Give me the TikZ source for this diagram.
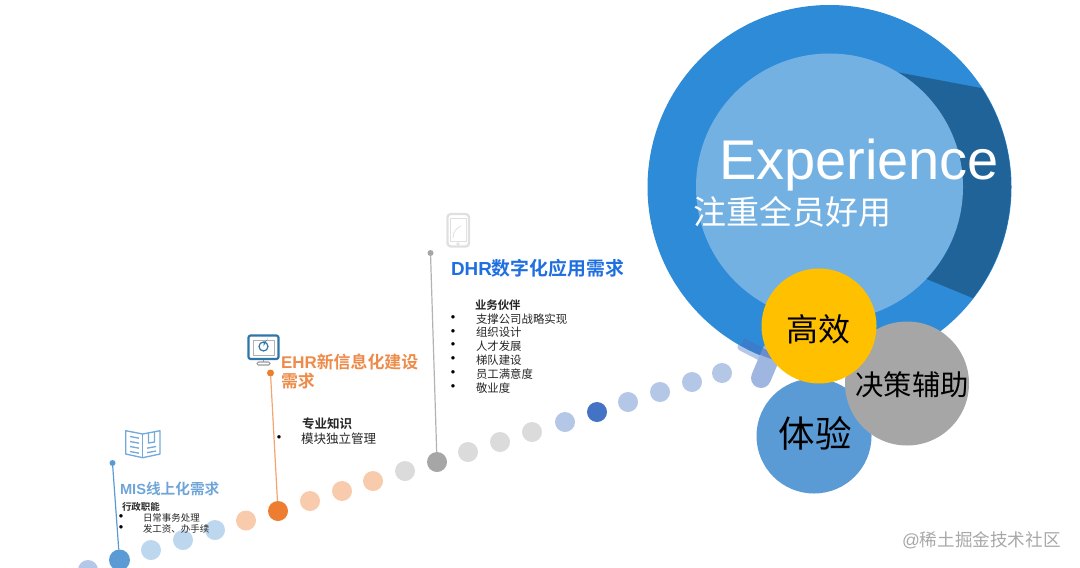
\documentclass[tikz,border=0pt]{standalone}
\usepackage{fontspec}
\setmainfont{Liberation Sans}
\newfontfamily\cjk{Noto Sans CJK SC}[BoldFont={* Bold}]
\newcommand{\fsz}[1]{\fontsize{#1}{#1}\selectfont}
\definecolor{outerblue}{HTML}{2E8BD7}
\definecolor{innerblue}{HTML}{74B1E3}
\definecolor{wedgeblue}{HTML}{1F6398}
\definecolor{goldc}{HTML}{FFC000}
\definecolor{greyc}{HTML}{A6A6A6}
\definecolor{midblue}{HTML}{5B9BD5}
\definecolor{paleblue}{HTML}{BDD7EE}
\definecolor{paleorange}{HTML}{F8CBAD}
\definecolor{strongorange}{HTML}{ED7D31}
\definecolor{palegrey}{HTML}{DBDBDB}
\definecolor{peri}{HTML}{B4C7E7}
\definecolor{royal}{HTML}{4472C4}
\definecolor{titleblue}{HTML}{1F6FE0}
\definecolor{titleorange}{HTML}{ED8B4A}
\definecolor{titlesky}{HTML}{6FA5D8}
\definecolor{wm}{HTML}{A8A8A8}
\definecolor{iconblue}{HTML}{2E75A8}
\tikzset{
  blob/.style={circle,inner sep=0pt,outer sep=0pt,minimum size=#1*0.75pt},
  dotp/.style={blob=20,fill=#1},
  lbl/.style={inner sep=0pt,outer sep=0pt,anchor=west},
  say/.style={lbl,font=\cjk\fsz{8.55},text=black!85},
  bul/.style={inner sep=0pt,font=\fsz{9.5},text=black},
}
\begin{document}
\begin{tikzpicture}[x=0.75pt,y=-0.75pt]
\clip (0,0) rectangle (1080,567);
% soft band under the big circle
\draw[line width=5.5pt,line cap=round,color=peri] (741,347) -- (768,361);
% big circles
\node[blob=364,fill=outerblue] (big) at (829.5,187) {};
\begin{scope}
  \clip (829.5,187) circle (181.5);
  \fill[wedgeblue] (880,69) -- (1050,101) -- (1050,330) -- (900,268) -- cycle;
\end{scope}
\node[blob=267,fill=innerblue] (inner) at (829.5,187) {};
% tail
\draw[line width=15pt,line cap=round,color=royal!52!white] (761,378) -- (772,352);
\begin{scope}
  \clip (829.5,187) circle (181.5);
  \draw[line width=8pt,color=royal,opacity=.6] (742,343) -- (780,363);
\end{scope}
% small circles
\node[blob=115,fill=midblue] (ty) at (814,436) {};
\node[blob=124,fill=greyc] (jc) at (907,383.5) {};
\node[blob=115,fill=goldc] (gx) at (819,326) {};
\node[inner sep=0pt,font=\cjk\fsz{24}] at (818,329) {高效};
\node[inner sep=0pt,font=\cjk\fsz{21.2}] at (912,385) {决策辅助};
\node[inner sep=0pt,font=\cjk\fsz{27.4}] at (815,433) {体验};
% heading
\node[lbl,font=\fsz{42},text=white] (exp) at (719,165) {Experience};
\node[lbl,font=\cjk\fsz{24.75},text=white] (sub) at (693,212) {注重全员好用};
% dots
\node[dotp=peri] (d0) at (88,570) {};
\node[dotp=midblue,blob=21] (d1) at (119.5,560) {};
\node[dotp=paleblue] (d2) at (151,550) {};
\node[dotp=paleblue] (d3) at (183,540) {};
\node[dotp=paleblue] (d4) at (215,530) {};
\node[dotp=paleorange] (d5) at (246,520.5) {};
\node[dotp=strongorange] (d6) at (278,511) {};
\node[dotp=paleorange] (d7) at (310,501) {};
\node[dotp=paleorange] (d8) at (342,491) {};
\node[dotp=paleorange] (d9) at (373,481) {};
\node[dotp=palegrey] (d10) at (405,471) {};
\node[dotp=greyc] (d11) at (437,462) {};
\node[dotp=palegrey] (d12) at (468,452) {};
\node[dotp=palegrey] (d13) at (500,442) {};
\node[dotp=palegrey] (d14) at (532,432) {};
\node[dotp=peri] (d15) at (565,422) {};
\node[dotp=royal] (d16) at (597,412) {};
\node[dotp=peri] (d17) at (628,402) {};
\node[dotp=peri] (d18) at (660,392) {};
\node[dotp=peri] (d19) at (692,382) {};
\node[dotp=peri] (d20) at (722,373) {};
% stems
\node[blob=6,fill=midblue] (t1) at (112.5,463) {};
\node[blob=7,fill=strongorange] (t2) at (270.5,373) {};
\node[blob=6,fill=greyc] (t3) at (430.5,253) {};
\draw[midblue,line width=0.9pt] (t1) -- (d1);
\draw[strongorange!70!white,line width=0.9pt] (t2) -- (d6);
\draw[greyc!85!white,line width=0.9pt] (t3) -- (d11);
% titles
\node[lbl,font=\bfseries\fsz{14.15},text=titleblue] at (451,268) {DHR{\cjk 数字化应用需求}};
\node[lbl,font=\bfseries\fsz{12.7},text=titleorange] at (281,362) {EHR{\cjk 新信息化建设}};
\node[lbl,font=\cjk\bfseries\fsz{12.7},text=titleorange] at (281,381) {需求};
\node[lbl,font=\bfseries\fsz{11},text=titlesky] at (120,489) {MIS{\cjk 线上化需求}};
% DHR list
\node[say,font=\cjk\bfseries\fsz{8.55}] at (475,305) {业务伙伴};
\foreach \yy/\tt in {319/支撑公司战略实现,332.5/组织设计,346/人才发展,360/梯队建设,374/员工满意度,388/敬业度}{
  \node[say] at (476,\yy) {\tt};
  \node[bul] at (453,\yy) {•};
}
% EHR list
\node[say,font=\cjk\bfseries\fsz{9.4}] at (302,424) {专业知识};
\node[say,font=\cjk\fsz{9.4}] at (301,439) {模块独立管理};
\node[bul] at (279,439) {•};
% MIS list
\node[say,font=\cjk\bfseries\fsz{7.1}] at (122,507) {行政职能};
\node[say,font=\cjk\fsz{7.1}] at (143,518) {日常事务处理};
\node[say,font=\cjk\fsz{7.1}] at (143,529) {发工资、办手续};
\node[bul] at (121,518) {•};
\node[bul] at (121,529) {•};
% book icon
\begin{scope}[midblue!85!white,line width=1pt,line join=round]
  \draw (125.7,430.7) -- (142.7,434) -- (160,430.7) -- (160,454) -- (142.7,457.7) -- (125.7,454) -- cycle;
  \draw (142.7,434) -- (142.7,457.7);
  \draw (130,436.5) -- (139,438.2) (130,441.5) -- (139,443.2) (130,446.5) -- (139,448.2) (130,451.5) -- (139,453.2);
  \draw (148.5,432.8) -- (148.5,443) -- (154.5,442) -- (154.5,431.8);
  \draw (147,448.2) -- (156,446.5) (147,452.7) -- (156,451);
\end{scope}
% monitor icon
\begin{scope}[iconblue,line width=1.6pt,line join=round]
  \draw[rounded corners=1.5pt] (248.5,335.5) rectangle (278.5,359);
  \draw[black!30,line width=0.6pt] (253,340) rectangle (274,355);
  \draw[line width=0.9pt] (263.5,346.5) circle (4.5);
  \fill (263.5,346.5) -- (263.5,342) arc[start angle=90,end angle=0,radius=4.5] -- cycle;
  \draw[black!40,line width=0.8pt] (263.5,359.5) -- (263.5,362);
  \draw[black!40,line width=0.8pt,rounded corners=1pt] (257,362) rectangle (270,365);
\end{scope}
% phone icon
\begin{scope}[black!12,line join=round]
  \draw[line width=1.8pt,rounded corners=2.5pt] (447.5,214) rectangle (469,246.5);
  \draw[line width=0.6pt] (450.5,218) rectangle (466,241.5);
  \draw[line width=0.6pt] (453,238) .. controls (453,231) and (457,228) .. (461,226);
  \draw[line width=0.6pt] (458,244) circle (1.3);
\end{scope}
% watermark
\node[lbl,font=\fsz{13.2},text=wm] at (902,540) {@{\cjk 稀土掘金技术社区}};
\end{tikzpicture}
\end{document}
